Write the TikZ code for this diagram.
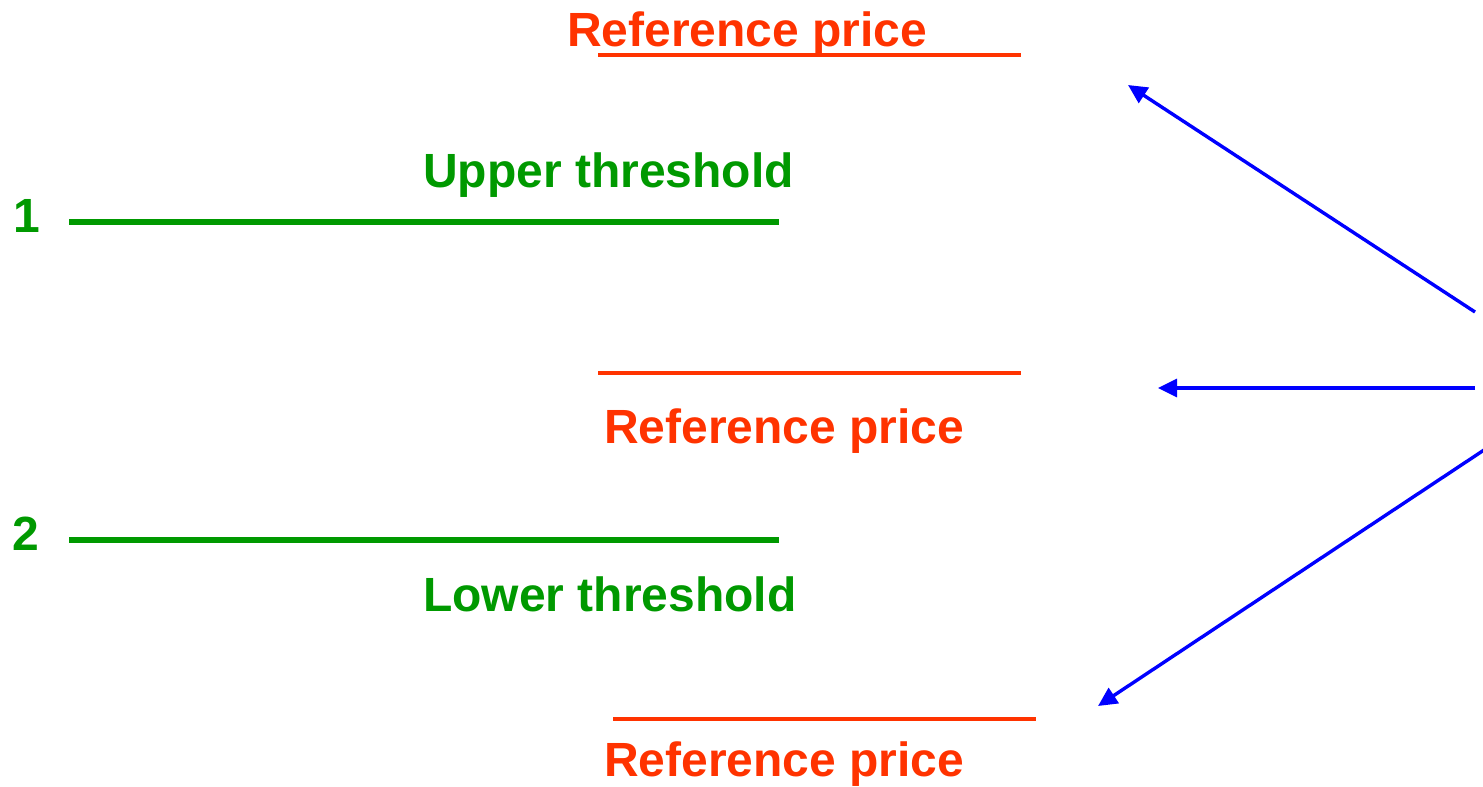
\documentclass[tikz,border=0pt]{standalone}
\usepackage{fontspec}
\setmainfont{Liberation Sans}
\usetikzlibrary{arrows.meta}
\definecolor{refred}{HTML}{FF3300}
\definecolor{thgreen}{HTML}{009900}
\definecolor{arrblue}{HTML}{0000FF}
\begin{document}
\begin{tikzpicture}[x=1pt,y=-1pt,
  reflabel/.style={anchor=base west,inner sep=0pt,text=refred,font=\fontsize{48}{50}\selectfont\bfseries},
  thlabel/.style={anchor=base west,inner sep=0pt,text=thgreen,font=\fontsize{48}{50}\selectfont\bfseries},
  refline/.style={draw=refred,line width=3.2pt},
  thline/.style={draw=thgreen,line width=6.5pt},
  moveto/.style={draw=arrblue,line width=3.4pt,-{Triangle[length=19pt,width=18pt]}}]
\useasboundingbox (0,0) rectangle (1483,787);
% top reference price
\node[reflabel] (rp1) at (567,46) {Reference price};
\coordinate (r1a) at (598,55); \coordinate (r1b) at (1021,55);
\draw[refline] (r1a) -- (r1b);
% upper threshold
\node[thlabel] (ut) at (423,187) {Upper threshold};
\node[thlabel] (n1) at (13,232) {1};
\coordinate (t1a) at (69,222); \coordinate (t1b) at (779,222);
\draw[thline] (t1a) -- (t1b);
% middle reference price
\coordinate (r2a) at (598,373); \coordinate (r2b) at (1021,373);
\draw[refline] (r2a) -- (r2b);
\node[reflabel] (rp2) at (604,443) {Reference price};
% lower threshold
\node[thlabel] (n2) at (12,550) {2};
\coordinate (t2a) at (69,540); \coordinate (t2b) at (779,540);
\draw[thline] (t2a) -- (t2b);
\node[thlabel] (lt) at (423,611) {Lower threshold};
% bottom reference price
\coordinate (r3a) at (613,719); \coordinate (r3b) at (1036,719);
\draw[refline] (r3a) -- (r3b);
\node[reflabel] (rp3) at (604,776) {Reference price};
% arrows
\coordinate (a1s) at (1475,312); \coordinate (a1e) at (1128,85);
\coordinate (a2s) at (1475,388); \coordinate (a2e) at (1158,388);
\coordinate (a3s) at (1484,450); \coordinate (a3e) at (1098,706);
\draw[moveto] (a1s) -- (a1e);
\draw[moveto] (a2s) -- (a2e);
\draw[moveto] (a3s) -- (a3e);
\end{tikzpicture}
\end{document}
